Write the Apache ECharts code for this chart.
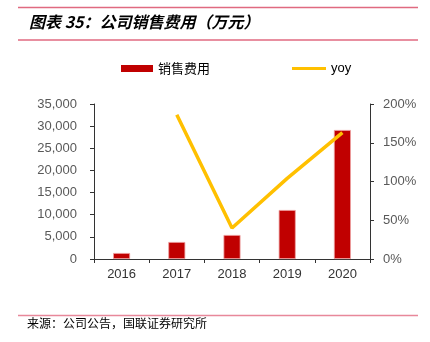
<!DOCTYPE html>
<html><head><meta charset="utf-8">
<script src="https://cdn.jsdelivr.net/npm/echarts@6/dist/echarts.min.js"></script>
<style>html,body{margin:0;padding:0;background:#fff}#c{width:430px;height:342px}</style>
</head><body><div id="c"></div>
<script>
var categories = ['2016','2017','2018','2019','2020'];
var salesExpense = [1350, 3840, 5420, 11060, 29130];
var yoy = [null, 186, 40, 104, 163];
var leftTicks = {min: 0, max: 35000, interval: 5000};
var rightTicks = {min: 0, max: 200, interval: 50};
var titleText = '图表 35：公司销售费用（万元）';
var sourceText = '来源：公司公告，国联证券研究所';

var chart = echarts.init(document.getElementById('c'), null, {renderer: 'canvas'});
var labelFont = '"Liberation Sans", Arial, sans-serif';
var cjk = '"Noto Sans CJK SC", sans-serif';
chart.setOption({
  animation: false,
  backgroundColor: '#fff',
  graphic: [
    {type: 'line', shape: {x1: 18, y1: 7.5, x2: 418, y2: 7.5}, style: {stroke: '#E06A80', lineWidth: 1.5}},
    {type: 'line', shape: {x1: 18, y1: 40, x2: 418, y2: 40}, style: {stroke: '#E06A80', lineWidth: 1.5}},
    {type: 'text', left: 29, top: 14, style: {text: titleText, fill: '#000', font: 'italic bold 16px ' + cjk}},
    {type: 'line', shape: {x1: 18, y1: 315.5, x2: 418, y2: 315.5}, style: {stroke: '#E8889A', lineWidth: 1.5}},
    {type: 'text', left: 27, top: 317, style: {text: sourceText, fill: '#000', font: '12px ' + cjk}}
  ],
  legend: [
    {data: [{name: '销售费用', icon: 'rect', itemStyle: {borderWidth: 0}}], left: 116, top: 57, itemWidth: 32, itemHeight: 7,
     textStyle: {fontFamily: cjk, fontSize: 13, color: '#000'}},
    {data: [{name: 'yoy', icon: 'rect'}], left: 287, top: 57, itemWidth: 34, itemHeight: 3,
     textStyle: {fontFamily: labelFont, fontSize: 13, color: '#000'}}
  ],
  grid: {left: 94, right: 60, top: 104, bottom: 83},
  xAxis: {
    type: 'category', data: categories,
    axisLine: {lineStyle: {color: '#333', width: 1}},
    axisTick: {show: true, length: 4, lineStyle: {color: '#333'}},
    axisLabel: {color: '#333', fontFamily: labelFont, fontSize: 13, margin: 9}
  },
  yAxis: [
    {type: 'value', min: leftTicks.min, max: leftTicks.max, interval: leftTicks.interval,
     axisLine: {show: true, lineStyle: {color: '#333'}},
     axisTick: {show: true, length: 4, lineStyle: {color: '#333'}},
     splitLine: {show: false},
     axisLabel: {color: '#595959', fontFamily: labelFont, fontSize: 13, margin: 17,
       formatter: function(v){ return v.toLocaleString('en-US'); }}},
    {type: 'value', min: rightTicks.min, max: rightTicks.max, interval: rightTicks.interval, position: 'right',
     axisLine: {show: true, lineStyle: {color: '#333'}},
     axisTick: {show: true, length: 4, lineStyle: {color: '#333'}},
     splitLine: {show: false},
     axisLabel: {color: '#595959', fontFamily: labelFont, fontSize: 13, margin: 13, formatter: '{value}%'}}
  ],
  series: [
    {name: '销售费用', type: 'bar', data: salesExpense, barWidth: 17, yAxisIndex: 0,
     itemStyle: {color: '#C00000', borderColor: '#EDA0A0', borderWidth: 0.8}},
    {name: 'yoy', type: 'line', data: yoy, yAxisIndex: 1, showSymbol: false, symbol: 'none',
     lineStyle: {color: '#FFC000', width: 3.5}, itemStyle: {color: '#FFC000'}}
  ]
});
</script></body></html>
